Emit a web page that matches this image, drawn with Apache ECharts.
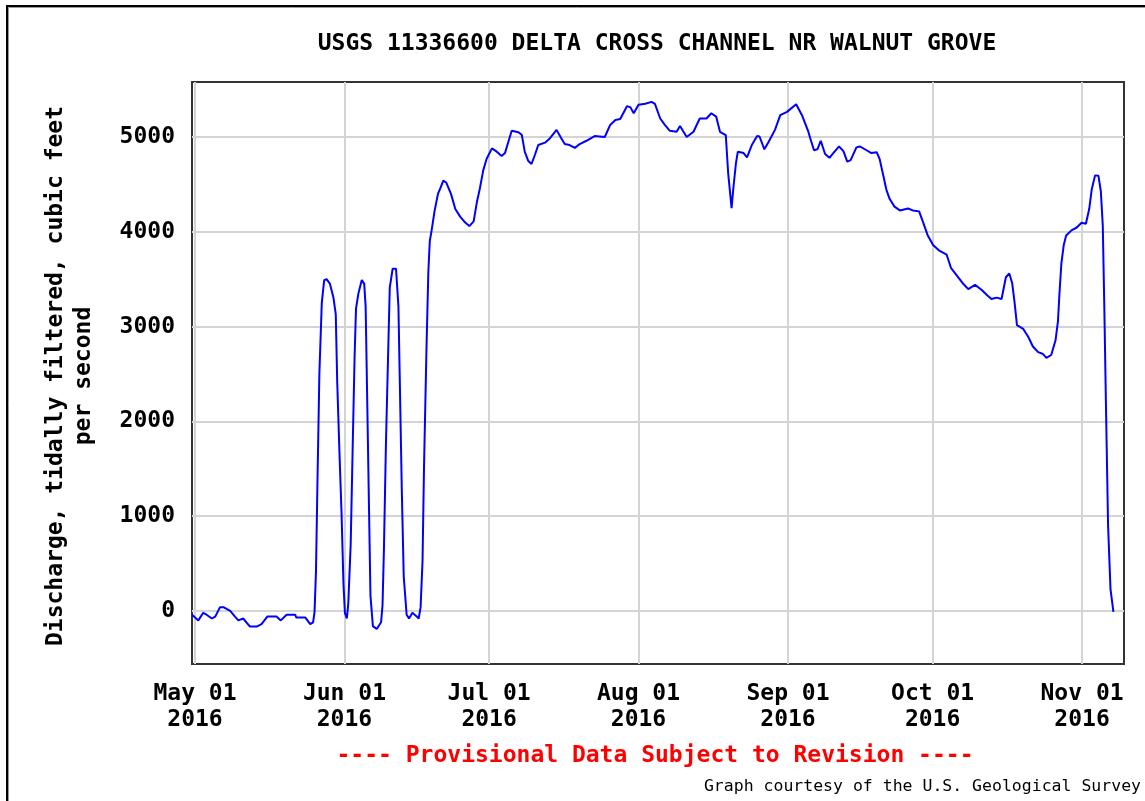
<!DOCTYPE html>
<html>
<head>
<meta charset="utf-8">
<title>USGS 11336600 Delta Cross Channel</title>
<script src="https://cdn.jsdelivr.net/npm/echarts@6/dist/echarts.min.js"></script>
<style>
  html, body { margin: 0; padding: 0; background: #fff; }
  #chart { width: 1145px; height: 801px; }
</style>
</head>
<body>
<div id="chart"></div>
<script>
// days after May 01 2016 (fractional)
const dayOffsets = [
  -0.6, 0.7, 1.7, 2.4, 3.5, 4.2, 5.2, 5.9, 7.3, 8.3, 9.0, 10.0, 11.4, 12.8, 13.8, 15.0,
  16.9, 17.8, 19.0, 20.8, 21.0, 22.9, 23.9, 24.5, 24.8, 25.1, 25.4, 25.8, 26.3, 26.8,
  27.3, 28.0, 28.7, 29.2, 29.5, 30.0, 30.4, 30.8, 31.1, 31.5, 31.8, 32.3, 32.7, 33.1,
  33.4, 33.9, 34.6, 35.1, 35.4, 35.7, 36.1, 36.4, 36.9, 37.7, 38.6, 38.9, 39.2, 39.6,
  40.1, 40.4, 41.0, 41.7, 42.2, 42.5, 42.9, 43.3, 43.9, 44.4, 45.1, 45.8, 46.4, 46.8,
  47.2, 47.5, 48.0, 48.4, 48.7, 49.1, 49.7, 50.4, 50.9, 51.5, 52.1, 53.1, 54.0, 55.0,
  56.0, 56.9, 57.8, 58.5, 59.1, 59.8, 60.5, 61.6,
  62.6, 63.6, 64.3, 65.0, 65.7, 67.1, 67.8, 68.4, 69.1, 69.8, 70.5, 71.2, 72.6, 73.6,
  75.0, 76.0, 76.7, 77.7, 78.8, 79.8, 81.2, 82.9, 85.0, 86.1, 87.2, 88.2, 89.6, 90.3,
  91.0, 92.0, 93.4, 94.7, 95.4, 96.5, 97.5, 98.5, 99.9, 100.6, 102.0, 103.4, 104.7,
  106.1, 107.1, 108.1, 108.9, 110.1, 110.6, 111.3, 111.7, 112.2, 112.6, 113.8, 114.5,
  115.5, 116.6, 117.1, 118.1, 119.0, 120.3, 121.4, 122.8, 124.7, 125.9, 127.2,
  127.6, 128.4, 129.1, 129.8, 130.7, 131.6, 132.4, 133.6, 134.5, 135.3, 136.0, 137.2,
  137.9, 139.3, 140.3, 141.4, 142.0, 142.7, 143.4, 144.1, 145.1, 146.2, 147.9, 148.9,
  150.2, 151.0, 152.0, 153.1, 154.4, 155.9, 156.8, 158.0, 159.2, 160.4, 161.8, 163.2,
  164.2, 165.2, 166.3, 167.3, 168.2, 168.9, 169.5, 170.0, 170.5, 171.8, 172.8, 173.8,
  174.9, 175.9, 176.6, 177.6, 178.5, 179.0, 179.3, 179.7, 180.2, 180.7, 181.8, 182.9,
  183.9, 184.8, 185.5, 186.0, 186.7, 187.4, 187.9, 188.3, 188.6, 189.0, 189.4, 189.9, 190.5
]
// discharge, cubic feet per second
const discharge = [
  -40, -100, -20, -40, -80, -60, 40, 40, 0, -60, -100, -80, -165, -165, -140, -60,
  -60, -100, -40, -40, -70, -70, -140, -120, -10, 420, 1350, 2500, 3250, 3490,
  3500, 3450, 3310, 3130, 2420, 1620, 1030, 280, -20, -80, 80, 710, 1700, 2670,
  3190, 3350, 3490, 3450, 3210, 2300, 1070, 160, -160, -190, -120, 60, 670, 1740,
  2790, 3410, 3610, 3610, 3210, 2380, 1270, 360, -40, -80, -20, -50, -80, 40,
  530, 1500, 2730, 3570, 3900, 4020, 4220, 4400, 4460, 4540, 4520, 4400, 4240, 4160,
  4100, 4060, 4110, 4320, 4460, 4650, 4770, 4880,
  4845, 4800, 4830, 4950, 5065, 5050, 5020, 4845, 4750, 4715, 4810, 4915, 4940, 4985,
  5075, 4985, 4925, 4915, 4885, 4925, 4960, 5010, 5000, 5125, 5180, 5190, 5325, 5315,
  5250, 5340, 5350, 5370, 5350, 5195, 5125, 5065, 5055, 5115, 5000, 5055, 5195,
  5195, 5250, 5215, 5055, 5020, 4615, 4250, 4475, 4720, 4845, 4830, 4785,
  4915, 5010, 5005, 4870, 4950, 5075, 5230, 5265, 5345, 5230, 5060,
  4990, 4860, 4870, 4960, 4820, 4780, 4830, 4900, 4850, 4740, 4755, 4890,
  4900, 4860, 4830, 4840, 4770, 4610, 4445, 4345, 4265, 4225, 4245, 4225,
  4215, 4105, 3960, 3860, 3800, 3760, 3620, 3540, 3460, 3395, 3440, 3385,
  3335, 3290, 3305, 3290, 3520, 3560, 3460, 3255, 3015, 2975, 2895, 2790,
  2730, 2710, 2670, 2700, 2855, 3055, 3335, 3660, 3860, 3960, 4015, 4045,
  4095, 4085, 4245, 4445, 4595, 4590, 4425, 4065, 3255, 2045, 895, 230, -10
]
// month gridlines (month index, 0 = January) and their labels
const tickMonths = [4, 5, 6, 7, 8, 9, 10]
const tickLabels = ['May 01\n2016', 'Jun 01\n2016', 'Jul 01\n2016', 'Aug 01\n2016',
  'Sep 01\n2016', 'Oct 01\n2016', 'Nov 01\n2016']
const yTicks = [0, 1000, 2000, 3000, 4000, 5000]

const DAY = 24 * 3600 * 1000
const may1 = new Date(2016, 4, 1).getTime()
const tickTimes = tickMonths.map(m => new Date(2016, m, 1).getTime())
const seriesData = dayOffsets.map((d, i) => [may1 + d * DAY, discharge[i]])

const FONT = '"DejaVu Sans Mono", "Liberation Mono", monospace'

let myChart = echarts.init(document.getElementById('chart'), null, { renderer: 'canvas' })
myChart.setOption({
  animation: false,
  backgroundColor: '#fff',
  grid: {
    left: 192,
    top: 82,
    width: 932,
    height: 582,
    show: true,
    borderColor: '#333',
    borderWidth: 2,
    outerBoundsMode: 'none'
  },
  // time on a plain value axis so the month ticks can be placed exactly
  xAxis: {
    type: 'value',
    min: may1 - 0.62 * DAY,
    max: may1 + 192.7 * DAY,
    axisLine: { show: false },
    axisTick: { show: false, customValues: tickTimes },
    splitLine: { show: true, lineStyle: { color: '#d4d4d4', width: 2 } },
    axisLabel: {
      customValues: tickTimes,
      margin: 17,
      fontFamily: FONT,
      fontWeight: 'bold',
      fontSize: 23,
      lineHeight: 26,
      color: '#000',
      formatter: function (v) {
        let i = tickTimes.indexOf(v)
        return i >= 0 ? tickLabels[i] : ''
      }
    }
  },
  yAxis: {
    type: 'value',
    min: -560,
    max: 5580,
    axisLine: { show: false },
    axisTick: { show: false, customValues: yTicks },
    splitLine: { show: true, lineStyle: { color: '#d4d4d4', width: 2 } },
    axisLabel: {
      customValues: yTicks,
      margin: 17,
      fontFamily: FONT,
      fontWeight: 'bold',
      fontSize: 23,
      color: '#000',
      // no thousands separator
      formatter: function (v) {
        return String(v)
      }
    }
  },
  series: [{
    type: 'line',
    data: seriesData,
    showSymbol: false,
    lineStyle: { color: '#0000ff', width: 2 },
    z: 5
  }],
  graphic: [
    // frame of the whole picture
    { type: 'polyline', shape: { points: [[7, 801], [7, 6], [1145, 6]] },
      style: { stroke: '#000', lineWidth: 2, fill: null } },
    { type: 'polyline', shape: { points: [[8.5, 801], [8.5, 7.5], [1145, 7.5]] },
      style: { stroke: '#999', lineWidth: 1, fill: null } },
    { type: 'text', x: 657, y: 44,
      style: { text: 'USGS 11336600 DELTA CROSS CHANNEL NR WALNUT GROVE', fill: '#000',
        font: 'bold 23px ' + FONT, align: 'center', verticalAlign: 'middle' } },
    { type: 'text', x: 70, y: 376, rotation: Math.PI / 2,
      style: { text: 'Discharge, tidally filtered, cubic feet\nper second', fill: '#000',
        font: 'bold 23px ' + FONT, lineHeight: 28, align: 'center', verticalAlign: 'middle' } },
    { type: 'text', x: 655, y: 756,
      style: { text: '---- Provisional Data Subject to Revision ----', fill: '#ff0000',
        font: 'bold 23px ' + FONT, align: 'center', verticalAlign: 'middle' } },
    { type: 'text', x: 1141, y: 787,
      style: { text: 'Graph courtesy of the U.S. Geological Survey', fill: '#000',
        font: '16.5px ' + FONT, align: 'right', verticalAlign: 'middle' } }
  ]
})
</script>
</body>
</html>
